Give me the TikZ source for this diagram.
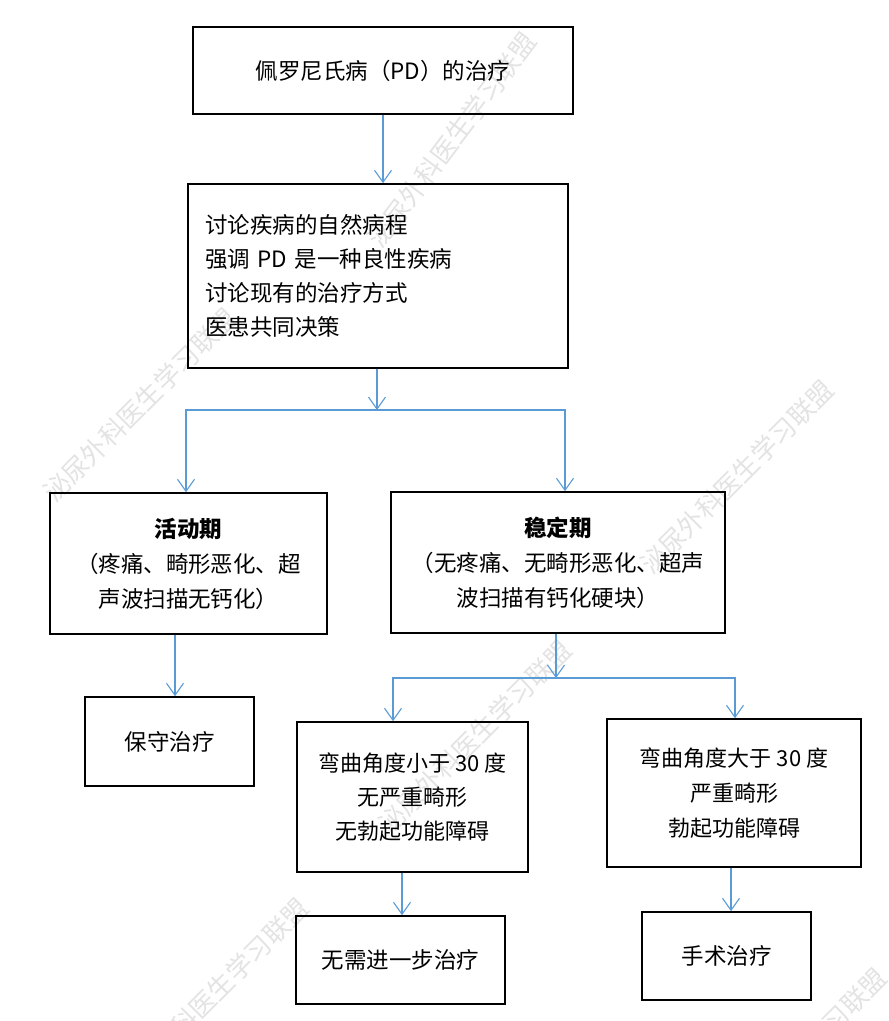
\documentclass[tikz,border=0pt]{standalone}
\usepackage{fontspec}
\setmainfont{Noto Sans CJK SC}
\usetikzlibrary{arrows.meta}
\definecolor{arrblue}{RGB}{91,155,213}
\tikzset{
  box/.style={draw=black, line width=1.6pt, inner sep=0pt, align=center,
    font=\fontsize{22.5}{35}\selectfont},
  arr/.style={draw=arrblue, line width=1.1pt, -{Straight Barb[length=12pt,width=17pt,line width=1.1pt]}},
  wm/.style={text=black!11, rotate=45, font=\fontsize{26}{26}\selectfont, inner sep=0pt}
}
\begin{document}
\begin{tikzpicture}[x=1pt,y=-1pt]
\useasboundingbox (0,0) rectangle (889,1021);
% watermarks
\node[wm] (w1) at (140,405) {泌尿外科医生学习联盟};
\node[wm, rotate=8] (w2) at (452,140) {泌尿外科医生学习联盟};
\node[wm] (w3) at (737,477) {泌尿外科医生学习联盟};
\node[wm] (w4) at (475,737) {泌尿外科医生学习联盟};
\node[wm] (w5) at (212,995) {泌尿外科医生学习联盟};
\node[wm] (w6) at (790,1065) {泌尿外科医生学习联盟};
% boxes
\node[box, minimum width=380pt, minimum height=87pt] (b1) at (383,70.5) {佩罗尼氏病（PD）的治疗};
\node[box, minimum width=380pt, minimum height=184pt, text width=346pt, align=left,
  font=\fontsize{22.5}{34}\selectfont] (b2) at (378,276) {讨论疾病的自然病程\\强调 PD 是一种良性疾病\\讨论现有的治疗方式\\医患共同决策};
\node[box, minimum width=277pt, minimum height=141pt] (b3) at (188.5,563.5) {\textbf{活动期}\\（疼痛、畸形恶化、超\\声波扫描无钙化）};
\node[box, minimum width=334pt, minimum height=141pt] (b4) at (558,562.5) {\textbf{稳定期}\\（无疼痛、无畸形恶化、超声\\波扫描有钙化硬块）};
\node[box, minimum width=169pt, minimum height=89pt] (b5) at (169.5,741.5) {保守治疗};
\node[box, minimum width=231pt, minimum height=150pt, font=\fontsize{22}{34}\selectfont] (b6) at (412.5,797) {弯曲角度小于 30 度\\无严重畸形\\无勃起功能障碍};
\node[box, minimum width=254pt, minimum height=148pt, font=\fontsize{22}{35}\selectfont] (b7) at (734,793) {弯曲角度大于 30 度\\严重畸形\\勃起功能障碍};
\node[box, minimum width=209pt, minimum height=88pt] (b8) at (400.5,960) {无需进一步治疗};
\node[box, minimum width=169pt, minimum height=88pt] (b9) at (726.5,956) {手术治疗};
% connector columns
\coordinate (c1) at (383,0);
\coordinate (j1) at (377,410);
\coordinate (j2) at (556,678);
\coordinate (c3) at (175,0);
\coordinate (c6) at (402,0);
\coordinate (c7) at (731,0);
% connectors
\draw[arr] (b1.south -| c1) -- (b2.north -| c1);
\draw[arr] (b2.south -| j1) -- (j1);
\draw[arr] (j1) -| ([xshift=-2.5pt]b3.north);
\draw[arr] (j1) -| ([xshift=7pt]b4.north);
\draw[arr] (b3.south -| c3) -- (b5.north -| c3);
\draw[arr] (b4.south -| j2) -- (j2);
\draw[arr] (j2) -| ([xshift=-19.5pt]b6.north);
\draw[arr] (j2) -| ([xshift=1pt]b7.north);
\draw[arr] (b6.south -| c6) -- (b8.north -| c6);
\draw[arr] (b7.south -| c7) -- (b9.north -| c7);
\end{tikzpicture}
\end{document}
